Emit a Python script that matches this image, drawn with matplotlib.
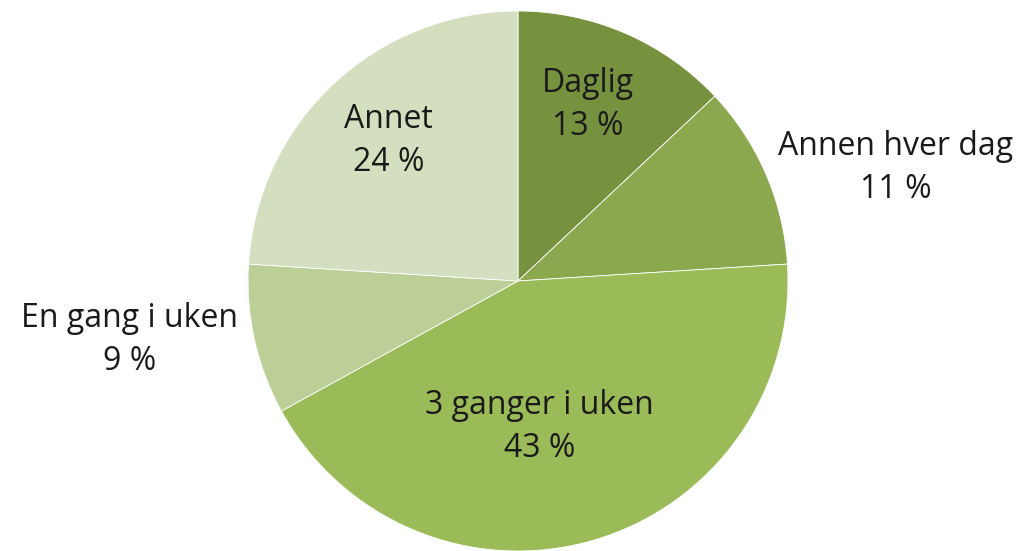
import matplotlib
matplotlib.use("Agg")
import matplotlib.pyplot as plt

categories = ["Daglig", "Annen hver dag", "3 ganger i uken", "En gang i uken", "Annet"]
values = [13, 11, 43, 9, 24]
colors = ["#77923F", "#8BA84F", "#9BBB59", "#BBCF97", "#D3DFBE"]
# label positions relative to pie radius (layout)
label_pos = [(0.26, 0.65), (1.40, 0.42), (0.08, -0.54), (-1.44, -0.22), (-0.48, 0.52)]

plt.rcParams['font.family'] = ['Open Sans', 'DejaVu Sans']
fig = plt.figure(figsize=(10.26, 5.51), dpi=100)
ax = fig.add_axes([248/1026, 0.0, 540/1026, 540/551])
wedges, _ = ax.pie(values, colors=colors, startangle=90, counterclock=False,
                   radius=1, wedgeprops=dict(edgecolor="white", linewidth=0.6))
for cat, v, (x, y) in zip(categories, values, label_pos):
    ax.text(x, y, f"{cat}\n{v} %", ha="center", va="center", fontsize=23,
            color="#1a1a1a", linespacing=1.4)
ax.set_xlim(-1, 1)
ax.set_ylim(-1, 1)
ax.set_aspect("equal")
ax.axis("off")
fig.savefig("out.png", dpi=100)
